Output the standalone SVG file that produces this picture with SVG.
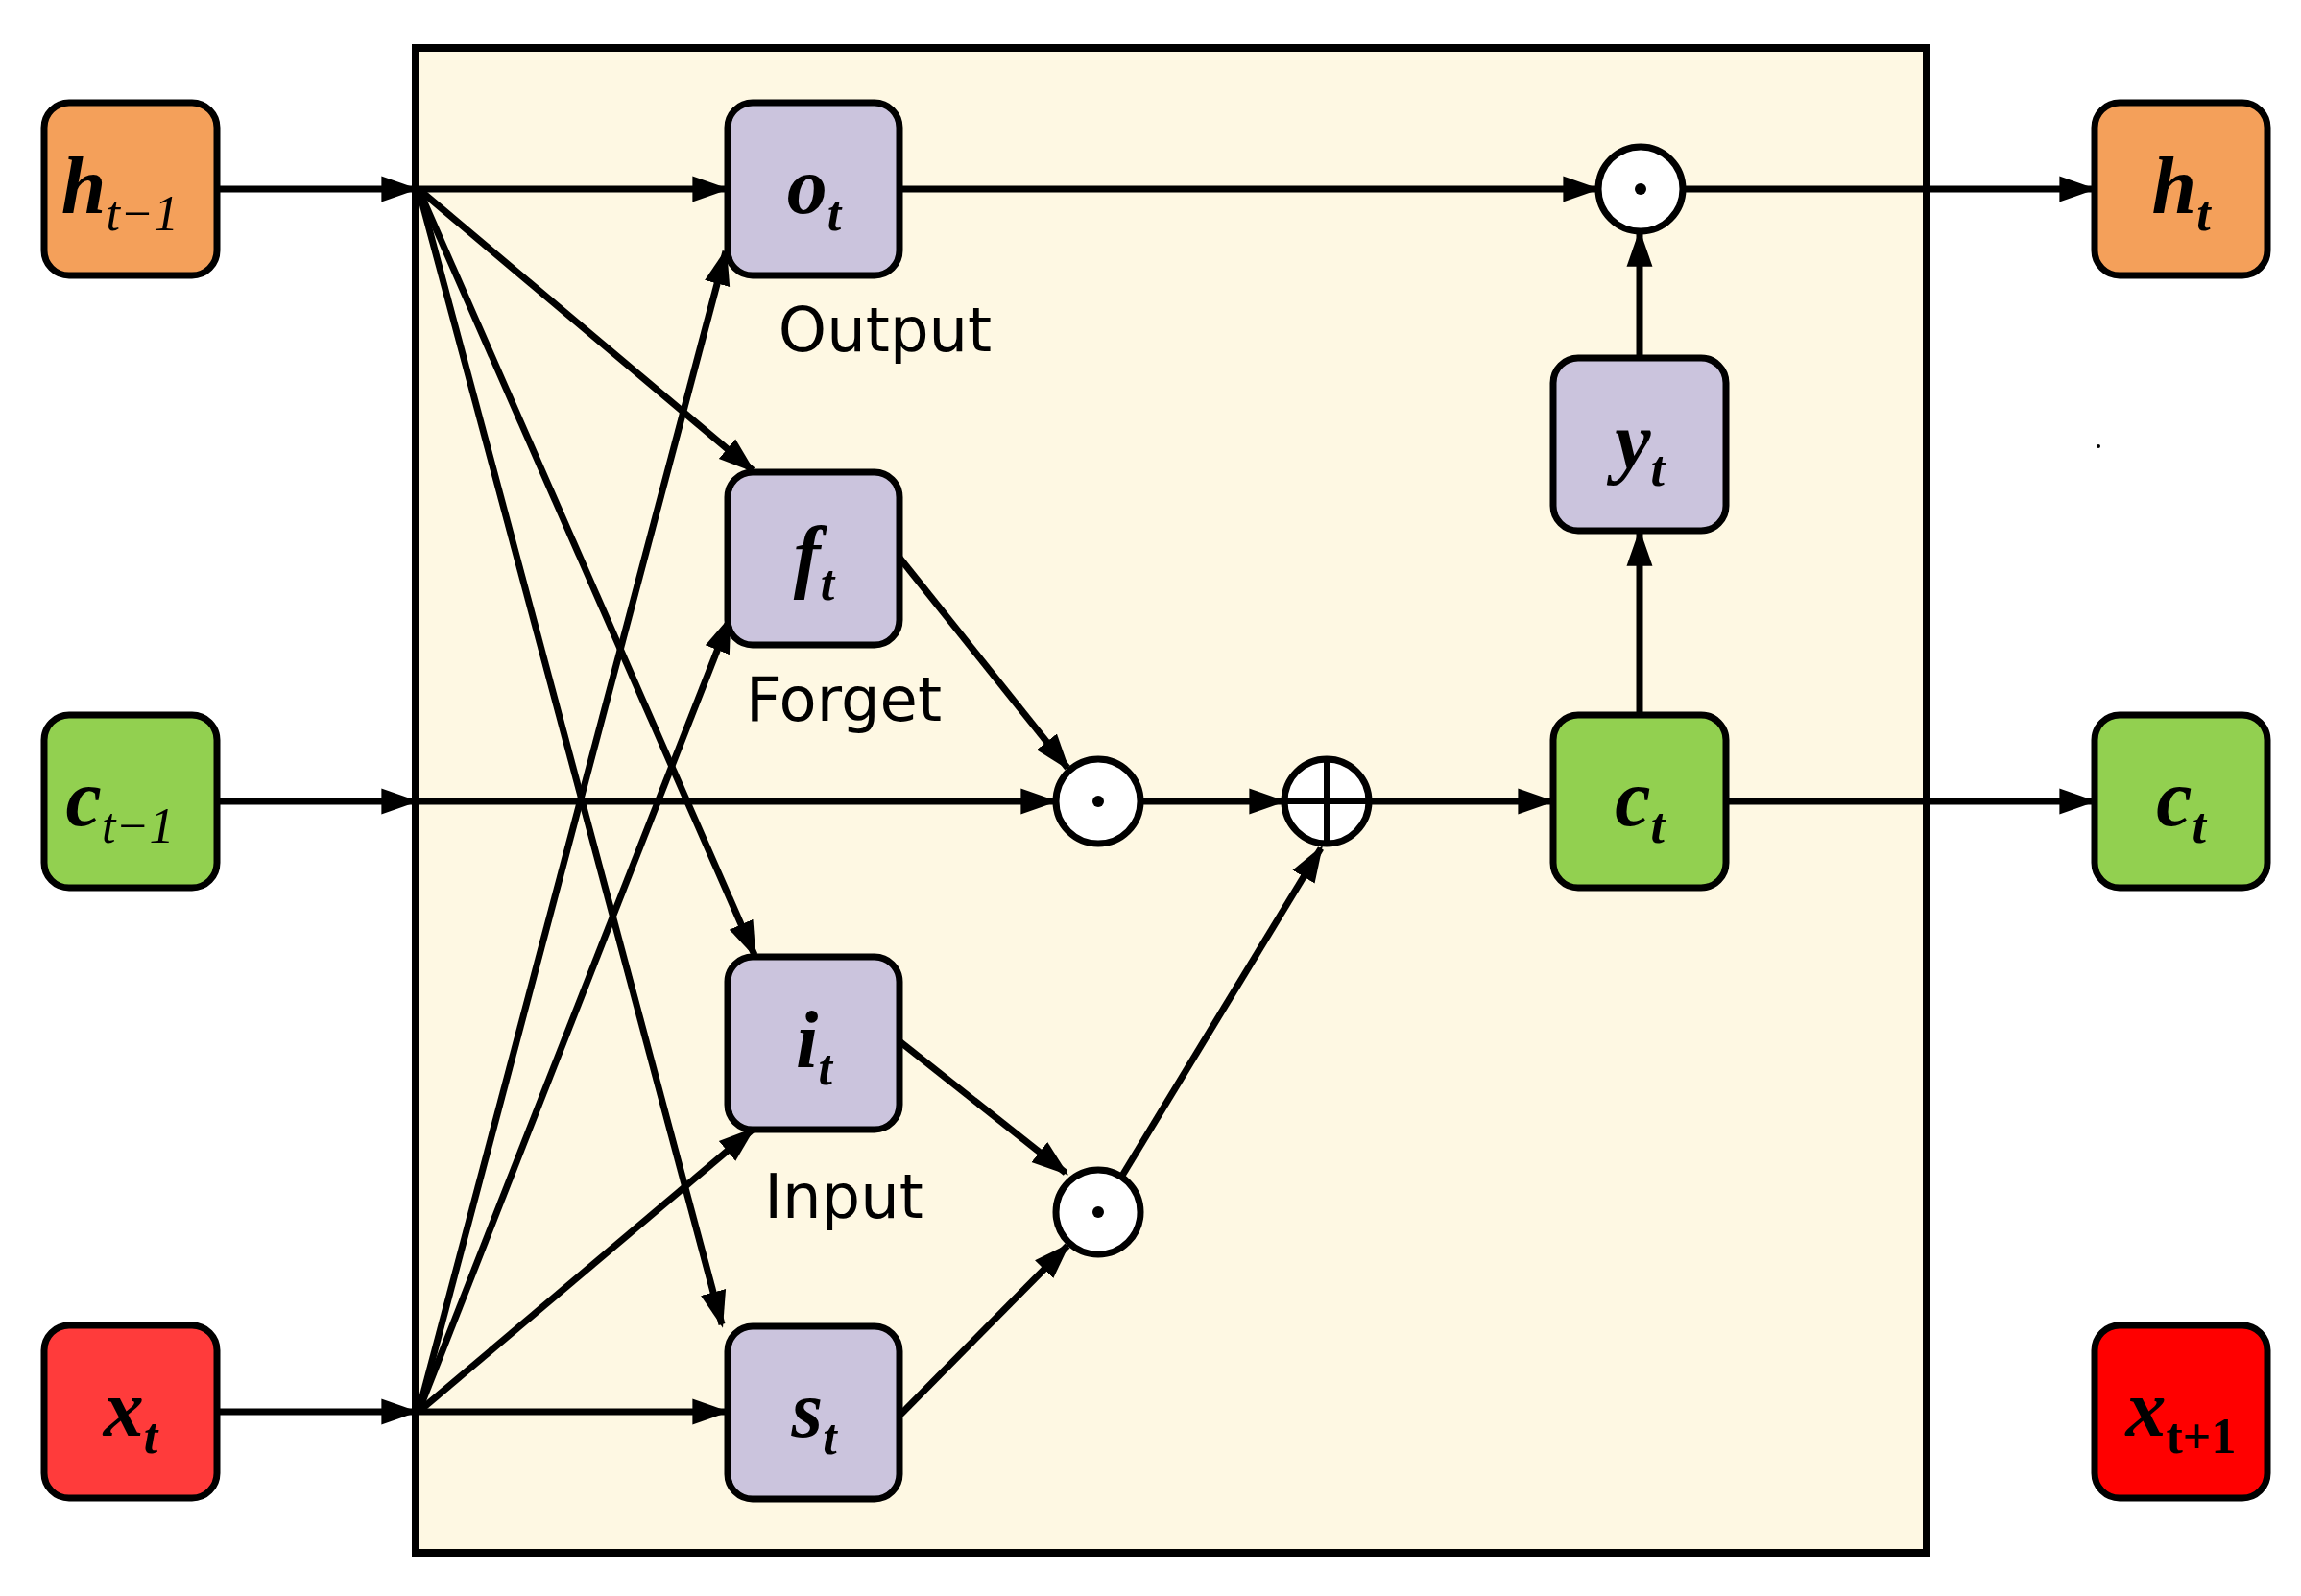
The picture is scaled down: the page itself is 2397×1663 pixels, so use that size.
<svg xmlns="http://www.w3.org/2000/svg" width="2397" height="1663" viewBox="0 0 2397 1663">
<style>
.n{stroke:#000;stroke-width:7}
.g{fill:#CBC4DD}.o{fill:#F4A05A}.gr{fill:#92D050}.r{fill:#FF3B3B}
.v{font-family:"Liberation Serif",serif;font-style:italic;font-weight:bold;font-size:84px;text-anchor:middle}
.s{font-size:52px}
.lb{font-family:"DejaVu Sans",sans-serif;font-size:64px;text-anchor:middle}
.c{stroke:#000;stroke-width:7;fill:#fff}
#conn line{stroke:#000;stroke-width:7}
</style>
<defs><marker id="a" viewBox="0 0 10 10" refX="9" refY="5" markerWidth="5.5" markerHeight="5.5" orient="auto" markerUnits="strokeWidth"><path d="M0,1.5 L10,5 L0,8.5z"/></marker></defs>
<rect width="2397" height="1663" fill="#fff"/>
<rect x="433" y="50" width="1574" height="1568" fill="#FEF8E3" stroke="#000" stroke-width="8"/>
<g id="conn">
<line x1="226" y1="197" x2="432" y2="197" marker-end="url(#a)"/>
<line x1="226" y1="835" x2="432" y2="835" marker-end="url(#a)"/>
<line x1="226" y1="1471" x2="432" y2="1471" marker-end="url(#a)"/>
<line x1="436" y1="197" x2="756" y2="197" marker-end="url(#a)"/>
<line x1="436" y1="197" x2="784" y2="490" marker-end="url(#a)"/>
<line x1="436" y1="197" x2="786" y2="995" marker-end="url(#a)"/>
<line x1="436" y1="197" x2="752" y2="1380" marker-end="url(#a)"/>
<line x1="436" y1="1471" x2="756" y2="262" marker-end="url(#a)"/>
<line x1="436" y1="1471" x2="760" y2="645" marker-end="url(#a)"/>
<line x1="436" y1="1471" x2="784" y2="1177" marker-end="url(#a)"/>
<line x1="436" y1="1471" x2="756" y2="1471" marker-end="url(#a)"/>
<line x1="436" y1="835" x2="1098" y2="835" marker-end="url(#a)"/>
<line x1="937" y1="581" x2="1112" y2="800" marker-end="url(#a)"/>
<line x1="937" y1="1085" x2="1110" y2="1222" marker-end="url(#a)"/>
<line x1="937" y1="1475" x2="1112" y2="1298" marker-end="url(#a)"/>
<line x1="1169" y1="1225" x2="1376" y2="884" marker-end="url(#a)"/>
<line x1="1188" y1="835" x2="1336" y2="835" marker-end="url(#a)"/>
<line x1="1426" y1="835" x2="1616" y2="835" marker-end="url(#a)"/>
<line x1="1708" y1="745" x2="1708" y2="555" marker-end="url(#a)"/>
<line x1="1708" y1="373" x2="1708" y2="243" marker-end="url(#a)"/>
<line x1="937" y1="197" x2="1663" y2="197" marker-end="url(#a)"/>
<line x1="1753" y1="197" x2="2180" y2="197" marker-end="url(#a)"/>
<line x1="1798" y1="835" x2="2180" y2="835" marker-end="url(#a)"/>
</g>
<g id="ht1"><rect class="n o" x="46" y="107" width="180" height="180" rx="26"/><text class="v" x="125" y="222">h<tspan class="s" dy="18" font-weight="normal">t−1</tspan></text></g>
<g id="ct1"><rect class="n gr" x="46" y="745" width="180" height="180" rx="26"/><text class="v" x="125" y="860">c<tspan class="s" dy="18" font-weight="normal">t−1</tspan></text></g>
<g id="xt"><rect class="n r" x="46" y="1381" width="180" height="180" rx="26"/><text class="v" x="136" y="1496">x<tspan class="s" dy="18">t</tspan></text></g>
<g id="ht"><rect class="n o" x="2182" y="107" width="180" height="180" rx="26"/><text class="v" x="2272" y="222">h<tspan class="s" dy="18">t</tspan></text></g>
<g id="ctr"><rect class="n gr" x="2182" y="745" width="180" height="180" rx="26"/><text class="v" x="2272" y="860">c<tspan class="s" dy="18">t</tspan></text></g>
<g id="xt1"><rect class="n" fill="#FF0000" x="2182" y="1381" width="180" height="180" rx="26"/><text class="v" x="2272" y="1496" font-weight="normal" font-size="72">x<tspan class="s" dy="18" font-style="normal">t+1</tspan></text></g>
<g id="ot"><rect class="n g" x="758" y="107" width="179" height="180" rx="26"/><text class="v" x="848" y="222">o<tspan class="s" dy="18">t</tspan></text><text class="lb" x="922" y="366">Output</text></g>
<g id="ft"><rect class="n g" x="758" y="492" width="179" height="180" rx="26"/><text class="v" x="848" y="607">f<tspan class="s" dy="18">t</tspan></text><text class="lb" x="879" y="751">Forget</text></g>
<g id="it"><rect class="n g" x="758" y="997" width="179" height="180" rx="26"/><text class="v" x="848" y="1112">i<tspan class="s" dy="18">t</tspan></text><text class="lb" x="879" y="1269">Input</text></g>
<g id="st"><rect class="n g" x="758" y="1382" width="179" height="180" rx="26"/><text class="v" x="848" y="1497">s<tspan class="s" dy="18">t</tspan></text></g>
<g id="yt"><rect class="n g" x="1618" y="373" width="180" height="180" rx="26"/><text class="v" x="1708" y="488">y<tspan class="s" dy="18">t</tspan></text></g>
<g id="ctm"><rect class="n gr" x="1618" y="745" width="180" height="180" rx="26"/><text class="v" x="1708" y="860">c<tspan class="s" dy="18">t</tspan></text></g>
<g id="m1"><circle class="c" cx="1709" cy="197" r="44"/><circle cx="1709" cy="197" r="6"/></g>
<g id="m2"><circle class="c" cx="1144" cy="835" r="44"/><circle cx="1144" cy="835" r="6"/></g>
<g id="m3"><circle class="c" cx="1144" cy="1263" r="44"/><circle cx="1144" cy="1263" r="6"/></g>
<g id="p"><circle class="c" cx="1382" cy="835" r="44"/><line x1="1338" y1="835" x2="1426" y2="835" stroke="#000" stroke-width="6"/><line x1="1382" y1="791" x2="1382" y2="879" stroke="#000" stroke-width="6"/></g>
<circle cx="2186" cy="465" r="2"/>
</svg>
